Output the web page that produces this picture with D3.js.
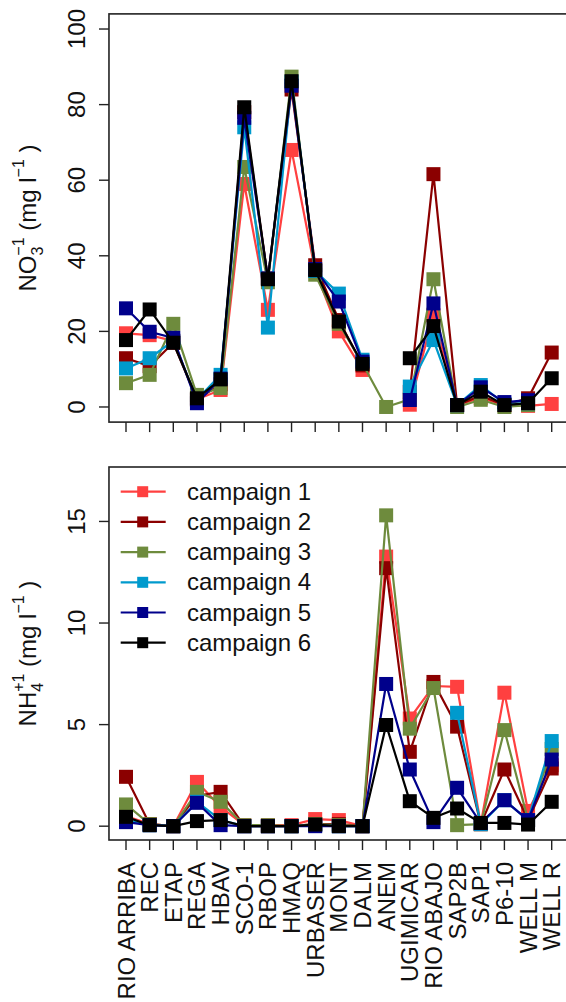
<!DOCTYPE html>
<html>
<head>
<meta charset="utf-8">
<script src="https://cdn.jsdelivr.net/npm/d3@7"></script>
<style>
  html, body { margin: 0; padding: 0; background: #fff; }
  svg { display: block; font-family: "Liberation Sans", Arial, sans-serif; }
</style>
</head>
<body>
<svg id="chart" width="566" height="1002"></svg>
<script>
// Sampling sites along the x axis
const sites = ["RIO ARRIBA", "REC", "ETAP", "REGA", "HBAV", "SCO-1", "RBOP", "HMAQ",
  "URBASER", "MONT", "DALM", "ANEM", "UGIMICAR", "RIO ABAJO", "SAP2B", "SAP1",
  "P6-10", "WELL M", "WELL R"];

const campaignNames = ["campaign 1", "campaign 2", "campaing 3", "campaign 4", "campaign 5", "campaign 6"];
const campaignColors = ["#FF4040", "#8B0000", "#6E8B3D", "#009ACD", "#00008B", "#000000"];

// Nitrate (mg/l); null = not sampled
const no3C1 = [19.5, 19, 17.5, 2, 4.5, 59, 25.7, 68, 36, 20, 9.8, null, 0.6, 24.3, 0.5, 2.4, 0.5, 0.3, 0.8];
const no3C2 = [12.9, 10.8, 17, 2, 6, 78, 34, 84, 37.5, 23, 11, null, 4, 61.6, 0.5, 3, 0.5, 2.3, 14.4];
const no3C3 = [6.3, 8.5, 22, 3.2, 5, 63.5, 33, 87.4, 35, 22, 11.5, 0, 2, 33.8, 0, 1.9, 0, 0.5, null];
const no3C4 = [10.2, 12.9, 17.5, 2, 8.5, 74, 21, 86, 36, 30, 12.5, null, 5.4, 17.7, 0.5, 5.8, 0.8, 1, null];
const no3C5 = [26.1, 19.9, 18.3, 1, 7.5, 76.5, 34, 85, 36.5, 27.9, 12, null, 1.85, 27.4, 0.5, 5.2, 1.3, 1.8, null];
const no3C6 = [17.7, 25.8, 17, 2.3, 7.3, 79.3, 33.8, 86.2, 36.2, 22.6, 11.4, null, 12.9, 21.4, 0.5, 4.05, 0.5, 1, 7.6];

// Ammonium (mg/l)
const nh4C1 = [0.5, 0.1, 0, 2.18, 0.95, 0.05, 0.05, 0.05, 0.35, 0.3, 0, 13.27, 5.3, 6.9, 6.86, 0.1, 6.57, 0.75, 3.0];
const nh4C2 = [2.43, 0.1, 0, 1.5, 1.69, 0, 0, 0, 0.1, 0.1, 0, 12.7, 3.66, 7.1, 4.9, 0.1, 2.79, 0.3, 2.84];
const nh4C3 = [1.07, 0.1, 0, 1.69, 1.2, 0.05, 0.05, 0, 0.1, 0.05, 0, 15.3, 4.8, 6.8, 0.05, 0.1, 4.73, 0.3, 3.8];
const nh4C4 = [0.3, 0.05, 0, 1.2, 0.3, 0, 0, 0, 0.05, 0, 0, null, null, null, 5.58, 0.1, 1.28, 0.3, 4.19];
const nh4C5 = [0.2, 0.05, 0, 1.15, 0.05, 0, 0, 0, 0, 0, 0, 7.0, 2.79, 0.2, 1.89, 0.15, 1.28, 0.3, 3.28];
const nh4C6 = [0.46, 0.05, 0, 0.25, 0.3, 0, 0, 0, 0.08, 0, 0, 4.98, 1.23, 0.41, 0.87, 0.16, 0.16, 0.08, 1.2];

const no3Ticks = [0, 20, 40, 60, 80, 100];
const nh4Ticks = [0, 5, 10, 15];

const no3Series = [no3C1, no3C2, no3C3, no3C4, no3C5, no3C6];
const nh4Series = [nh4C1, nh4C2, nh4C3, nh4C4, nh4C5, nh4C6];

const svg = d3.select("#chart");
const FONT = 24;

// Shared x scale: site index 1..19, with 4% padding either side of the data range
const x = d3.scaleLinear().domain([1, sites.length]).range([126, 551.7]);
const pad = 0.04 * (sites.length - 1);
const boxLeft = x(1 - pad), boxRight = x(sites.length + pad);

function panel(opts) {
  const { series, ymax, ticks, yTop, yBottom, showLabels } = opts;
  // data range 0..ymax mapped inside the box with 4% padding
  const ext = 0.04 * ymax;
  const y = d3.scaleLinear().domain([-ext, ymax + ext]).range([yBottom, yTop]);
  const g = svg.append("g");

  // Series: line then square markers, in campaign order
  const line = d3.line()
    .defined(d => d != null)
    .x((d, i) => x(i + 1))
    .y(d => y(d));

  series.forEach((vals, k) => {
    const col = campaignColors[k];
    g.append("path")
      .attr("d", line(vals))
      .attr("fill", "none")
      .attr("stroke", col)
      .attr("stroke-width", 2.2)
      .attr("stroke-linejoin", "miter");
    const s = 14;
    g.selectAll(null)
      .data(vals.map((v, i) => ({ v, i })).filter(d => d.v != null))
      .enter().append("rect")
      .attr("x", d => x(d.i + 1) - s / 2)
      .attr("y", d => y(d.v) - s / 2)
      .attr("width", s).attr("height", s)
      .attr("fill", col);
  });

  // Box
  g.append("rect")
    .attr("x", boxLeft).attr("y", yTop)
    .attr("width", boxRight - boxLeft).attr("height", yBottom - yTop)
    .attr("fill", "none").attr("stroke", "#222").attr("stroke-width", 1.6);

  // Y axis ticks and rotated labels
  ticks.forEach(t => {
    g.append("line")
      .attr("x1", boxLeft).attr("x2", boxLeft - 10)
      .attr("y1", y(t)).attr("y2", y(t))
      .attr("stroke", "#222").attr("stroke-width", 1.4);
    g.append("text")
      .attr("transform", `translate(85,${y(t)}) rotate(-90)`)
      .attr("text-anchor", "middle")
      .attr("font-size", FONT)
      .attr("fill", "#111")
      .text(t);
  });

  // X axis ticks
  sites.forEach((s, i) => {
    g.append("line")
      .attr("x1", x(i + 1)).attr("x2", x(i + 1))
      .attr("y1", yBottom).attr("y2", yBottom + 10)
      .attr("stroke", "#222").attr("stroke-width", 1.4);
    if (showLabels) {
      g.append("text")
        .attr("transform", `translate(${x(i + 1) + 8.5},${yBottom + 22}) rotate(-90)`)
        .attr("text-anchor", "end")
        .attr("font-size", FONT)
        .attr("fill", "#111")
        .text(s);
    }
  });
  return { g, y, mid: (yTop + yBottom) / 2 };
}

// Y axis title with stacked subscript / superscript
function yTitle(cy, base, sub, sup) {
  const t = svg.append("text")
    .attr("transform", `translate(36,${cy}) rotate(-90)`)
    .attr("text-anchor", "middle")
    .attr("font-size", FONT)
    .attr("fill", "#111");
  t.append("tspan").text(base);
  t.append("tspan").attr("font-size", 16).attr("dy", 7).text(sub);
  t.append("tspan").attr("font-size", 16).attr("dx", -9).attr("dy", -19).text(sup);
  t.append("tspan").attr("dy", 12).text(" (mg l");
  t.append("tspan").attr("font-size", 16).attr("dy", -12).text("\u22121");
  t.append("tspan").attr("dy", 12).text(" )");
}

const no3Panel = panel({ series: no3Series, ymax: 100, ticks: no3Ticks, yTop: 13.9, yBottom: 422.1, showLabels: false });
yTitle(no3Panel.mid, "NO", "3", "\u22121");

const nh4Panel = panel({ series: nh4Series, ymax: 17, ticks: nh4Ticks, yTop: 467, yBottom: 840, showLabels: true });
yTitle(nh4Panel.mid, "NH", "4", "+1");

// Legend
const legend = svg.append("g");
const legY = d3.scaleLinear().domain([0, 5]).range([491.7, 642.7]);
campaignNames.forEach((name, k) => {
  const yy = legY(k);
  legend.append("line")
    .attr("x1", 120.7).attr("x2", 165.7).attr("y1", yy).attr("y2", yy)
    .attr("stroke", campaignColors[k]).attr("stroke-width", 2.2);
  legend.append("rect")
    .attr("x", 142.7 - 5.5).attr("y", yy - 5.5).attr("width", 11).attr("height", 11)
    .attr("fill", campaignColors[k]);
  legend.append("text")
    .attr("x", 187).attr("y", yy + 8)
    .attr("font-size", FONT).attr("fill", "#111")
    .text(name);
});
</script>
</body>
</html>
